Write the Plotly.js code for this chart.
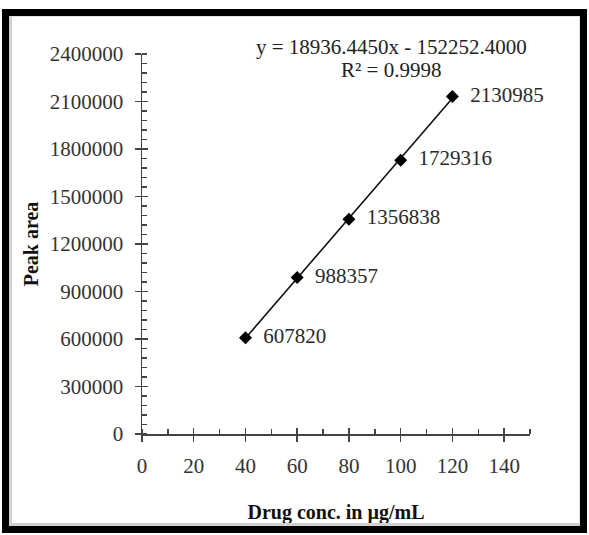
<!DOCTYPE html>
<html>
<head>
<meta charset="utf-8">
<script src="https://cdn.plot.ly/plotly-3.0.1.min.js"></script>
<style>
  html, body { margin: 0; padding: 0; background: #fff; }
  #wrap { position: relative; width: 589px; height: 535px; }
  #chart { position: absolute; left: 0; top: 0; width: 589px; height: 535px; }
  #frame { position: absolute; left: 2px; top: 9px; width: 585px; height: 524px;
           box-sizing: border-box; border: 7px solid #000; pointer-events: none; }
  #inner { position: absolute; left: 0; top: 0; right: 0; bottom: 0;
           border-left: 3px solid #d0d0d0; border-bottom: 3px solid #d0d0d0;
           border-top: 1px solid #e4e4e4; border-right: 1px solid #e4e4e4; }
</style>
</head>
<body>
<div id="wrap">
  <div id="chart"></div>
  <div id="frame"><div id="inner"></div></div>
</div>
<script>
const conc = [40, 60, 80, 100, 120];
const peakArea = [607820, 988357, 1356838, 1729316, 2130985];
const pointLabels = ['607820', '988357', '1356838', '1729316', '2130985'];
const slope = 18936.4450;
const intercept = -152252.4000;
const r2 = '0.9998';
const xTicks = [0, 20, 40, 60, 80, 100, 120, 140];
const yTicks = [0, 300000, 600000, 900000, 1200000, 1500000, 1800000, 2100000, 2400000];

const fitX = [conc[0], conc[conc.length - 1]];
const fitY = fitX.map(x => slope * x + intercept);

const serif = 'Liberation Serif, Times New Roman, serif';

const traces = [
  {
    x: fitX, y: fitY, type: 'scatter', mode: 'lines',
    line: {color: '#111', width: 1.6}, hoverinfo: 'skip', showlegend: false
  },
  {
    x: conc, y: peakArea, type: 'scatter', mode: 'markers+text',
    marker: {symbol: 'diamond', size: 10, color: '#000'},
    text: pointLabels.map(s => '\u00a0\u00a0' + s), textposition: 'middle right',
    textfont: {family: serif, size: 21, color: '#2a2a2a'},
    cliponaxis: false,
    showlegend: false
  },
  {x: [0], y: [0], xaxis: 'x2', yaxis: 'y2', mode: 'markers', marker: {opacity: 0}, hoverinfo: 'skip', showlegend: false}
];

const axisCommon = {
  showgrid: false, zeroline: false, showline: true,
  linecolor: '#444', linewidth: 1.5,
  tickcolor: '#444', tickwidth: 1.5,
  tickfont: {family: serif, size: 21, color: '#333'}
};

const layout = {
  width: 589, height: 535,
  margin: {l: 142, r: 59, t: 54, b: 101},
  paper_bgcolor: '#fff', plot_bgcolor: '#fff',
  xaxis: Object.assign({}, axisCommon, {
    range: [0, 150], tickvals: xTicks, ticktext: xTicks.map(String),
    ticks: 'outside', ticklen: 6, ticklabelstandoff: 6,
    minor: {dtick: 10, tick0: 0, ticks: 'inside', ticklen: 5, tickcolor: '#444', tickwidth: 1.5},
    title: {text: '<b>Drug conc. in µg/mL</b>', font: {family: serif, size: 20, color: '#111'}, standoff: 28}
  }),
  yaxis: Object.assign({}, axisCommon, {
    range: [0, 2400000], tickvals: yTicks, ticktext: yTicks.map(String),
    ticks: 'outside', ticklen: 6, ticklabelstandoff: 7,
    minor: {dtick: 60000, tick0: 0, ticks: 'inside', ticklen: 5, tickcolor: '#444', tickwidth: 1.2},
    title: {text: '<b>Peak area</b>', font: {family: serif, size: 20, color: '#111'}, standoff: 6}
  }),
  xaxis2: {
    overlaying: 'x', matches: 'x', anchor: 'y2', side: 'bottom',
    range: [0, 150], tickvals: xTicks, showticklabels: false,
    ticks: 'inside', ticklen: 6, tickcolor: '#444', tickwidth: 1.5,
    showline: false, showgrid: false, zeroline: false
  },
  yaxis2: {
    overlaying: 'y', matches: 'y', anchor: 'x2', side: 'left',
    range: [0, 2400000], tickvals: yTicks, showticklabels: false,
    ticks: 'inside', ticklen: 6, tickcolor: '#444', tickwidth: 1.5,
    showline: false, showgrid: false, zeroline: false
  },
  annotations: [
    {
      xref: 'paper', yref: 'paper', x: 0.642, y: 1.018,
      xanchor: 'center', yanchor: 'middle', showarrow: false, align: 'center',
      text: 'y = ' + slope.toFixed(4) + 'x - ' + Math.abs(intercept).toFixed(4),
      font: {family: serif, size: 21, color: '#222'}
    },
    {
      xref: 'paper', yref: 'paper', x: 0.642, y: 0.958,
      xanchor: 'center', yanchor: 'middle', showarrow: false, align: 'center',
      text: 'R² = ' + r2,
      font: {family: serif, size: 21, color: '#222'}
    }
  ]
};

Plotly.newPlot('chart', traces, layout, {displayModeBar: false, staticPlot: true});
</script>
</body>
</html>
